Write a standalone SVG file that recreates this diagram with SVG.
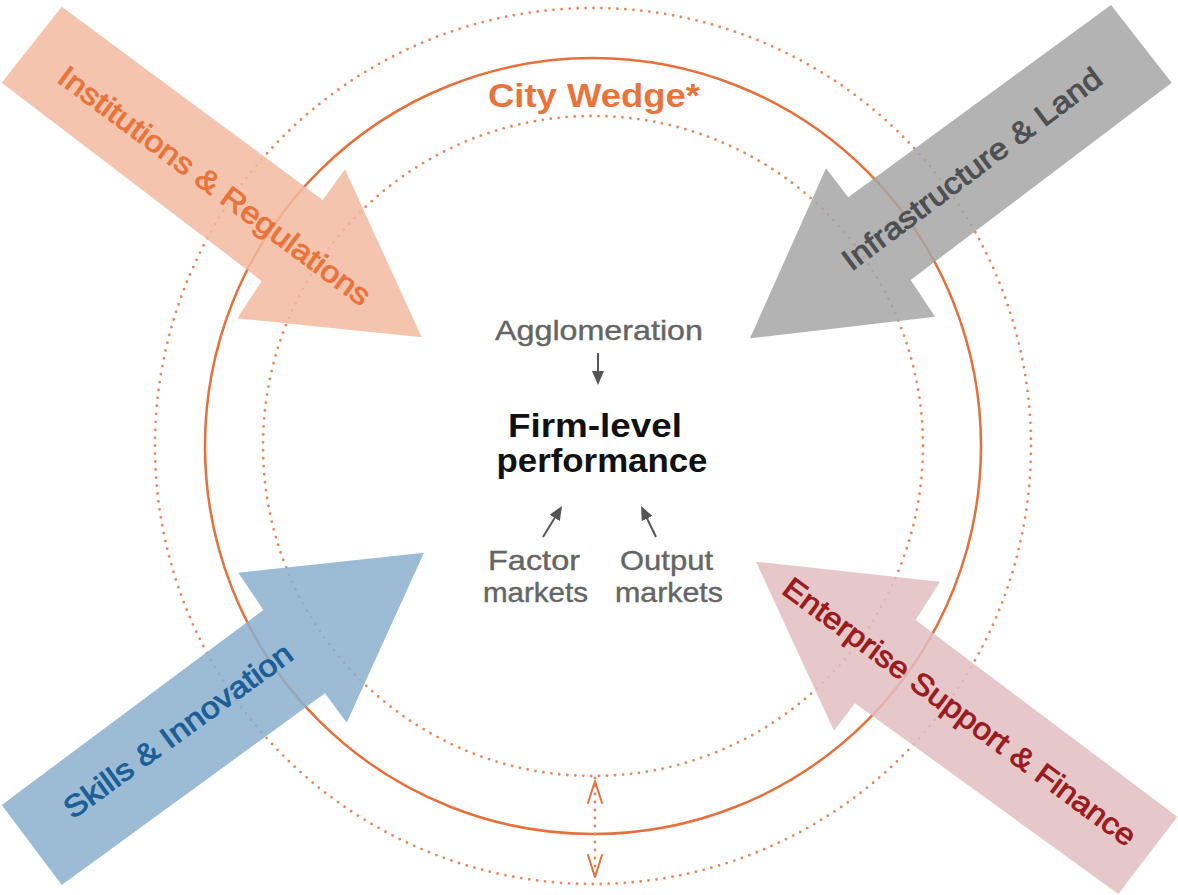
<svg xmlns="http://www.w3.org/2000/svg" width="1178" height="895" viewBox="0 0 1178 895">
<defs>
<style>
.dot{fill:none;stroke:#e8845a;stroke-width:2.8;stroke-linecap:round;stroke-dasharray:0 8}
.ring{fill:none;stroke:#e5703b;stroke-width:2.5}
.lbl{font-family:"Liberation Sans",Arial,sans-serif;font-size:30px;text-anchor:middle;stroke-width:0.9}
.arr{opacity:0.85}
.mid{font-family:"Liberation Sans",Arial,sans-serif;font-size:28px;fill:#656565;stroke:#656565;stroke-width:0.4;text-anchor:middle}
.ctr{font-family:"Liberation Sans",Arial,sans-serif;font-size:33px;font-weight:bold;fill:#111;text-anchor:middle}
.conn{stroke:#555;stroke-width:2;fill:none}
.chev{stroke:#e5703b;stroke-width:2;fill:none;stroke-linecap:round;stroke-linejoin:round}
</style>
<marker id="ah" viewBox="0 0 14 12" refX="4" refY="6" markerWidth="14" markerHeight="12" markerUnits="userSpaceOnUse" orient="auto"><path d="M0,0 L14,6 L0,12 Z" fill="#555"/></marker>
</defs>
<rect width="1178" height="895" fill="#fff"/>
<g id="city-wedge">
<circle class="dot" cx="593" cy="446" r="438"/>
<circle class="ring" cx="593" cy="446" r="388"/>
<circle class="dot" cx="593" cy="446" r="330"/>
<text x="594" y="107" font-family="Liberation Sans, Arial, sans-serif" font-size="33" font-weight="bold" fill="#e8743b" text-anchor="middle" textLength="212" lengthAdjust="spacingAndGlyphs">City Wedge*</text>
</g>
<g id="institutions">
<polygon class="arr" fill="#f2baa0" points="61.7,6.7 322.7,200 345,169.3 421.7,337.3 237.3,318.3 261.7,281 1.7,82.7"/>
<text class="lbl" fill="#e8743b" stroke="#e8743b" transform="translate(208.5,194) rotate(36.5)" x="0" y="0" textLength="380" lengthAdjust="spacingAndGlyphs">Institutions &amp; Regulations</text>
</g>
<g id="infrastructure">
<polygon class="arr" fill="#a6a6a6" points="1111,5 1171.7,82.7 910.7,280 935,316.7 750,338.3 826,168.3 848.3,197.3"/>
<text class="lbl" fill="#4d4f52" stroke="#4d4f52" transform="translate(978,177) rotate(-36.8)" x="0" y="0" textLength="316" lengthAdjust="spacingAndGlyphs">Infrastructure &amp; Land</text>
</g>
<g id="skills">
<polygon class="arr" fill="#89b0cc" points="424,552.7 238.3,572.7 263.3,610 1.7,805 61.7,885 325,693.3 346.7,722.7"/>
<text class="lbl" fill="#1b5e98" stroke="#1b5e98" transform="translate(184,739) rotate(-36)" x="0" y="0" textLength="275" lengthAdjust="spacingAndGlyphs">Skills &amp; Innovation</text>
</g>
<g id="enterprise">
<polygon class="arr" fill="#e2bec1" points="756,561.7 940,581.7 915.7,620 1177.3,816.7 1118.3,894 855,703.3 834,730.7"/>
<text class="lbl" fill="#9a1a1e" stroke="#9a1a1e" transform="translate(953.5,720) rotate(36.4)" x="0" y="0" textLength="430" lengthAdjust="spacingAndGlyphs">Enterprise Support &amp; Finance</text>
</g>
<g id="agglomeration">
<text class="mid" x="599" y="340" textLength="208" lengthAdjust="spacingAndGlyphs">Agglomeration</text>
</g>
<g id="firm-performance">
<text class="ctr" x="595" y="437" textLength="174" lengthAdjust="spacingAndGlyphs">Firm-level</text>
<text class="ctr" x="602" y="472" textLength="211" lengthAdjust="spacingAndGlyphs">performance</text>
</g>
<g id="factor-markets">
<text class="mid" x="534" y="570" textLength="92" lengthAdjust="spacingAndGlyphs">Factor</text>
<text class="mid" x="535.5" y="602" textLength="105" lengthAdjust="spacingAndGlyphs">markets</text>
</g>
<g id="output-markets">
<text class="mid" x="666.5" y="570" textLength="93" lengthAdjust="spacingAndGlyphs">Output</text>
<text class="mid" x="669" y="602" textLength="108" lengthAdjust="spacingAndGlyphs">markets</text>
</g>
<g id="connectors">
<line class="conn" x1="598" y1="353" x2="598" y2="375" marker-end="url(#ah)"/>
<line class="conn" x1="543" y1="537" x2="556.8" y2="514.5" marker-end="url(#ah)"/>
<line class="conn" x1="656" y1="537" x2="645.4" y2="515" marker-end="url(#ah)"/>
<line class="dot" x1="595" y1="778" x2="595" y2="880"/>
<polyline class="chev" points="588,803 595,781 602,803"/>
<polyline class="chev" points="588,855 595,877 602,855"/>
</g>
</svg>
